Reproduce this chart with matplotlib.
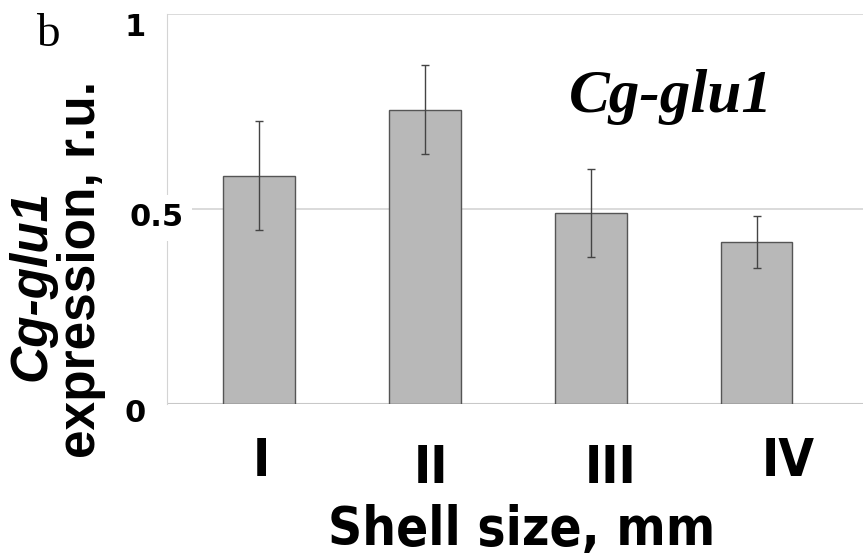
import numpy as np
import matplotlib.pyplot as plt
from matplotlib import transforms

groups = ["I", "II", "III", "IV"]
expression = [0.585, 0.754, 0.490, 0.415]
errors = [0.140, 0.114, 0.113, 0.067]
yticks = [0, 0.5, 1]
ytick_labels = ["0", "0.5", "1"]

W, H = 863, 558
fig = plt.figure(figsize=(W / 100, H / 100), dpi=100)
ax = fig.add_axes([167 / W, 1 - 404 / H, 696 / W, 390 / H])

x = np.arange(len(groups))
ax.bar(x, expression, width=0.43, color="#b8b8b8", edgecolor="#555555", linewidth=1.0, zorder=3)
ax.errorbar(x, expression, yerr=errors, fmt="none", ecolor="#444444",
            elinewidth=1.0, capsize=3, capthick=1.0, zorder=4)

ax.set_xlim(-0.554, 3.64)
ax.set_ylim(0, 1)
ax.set_yticks(yticks)
ax.set_yticklabels([])
ax.tick_params(length=0)
ax.set_xticks([])
ax.grid(axis="y", color="#d4d4d4", linewidth=1.2, zorder=0)
for side in ["top", "right", "bottom"]:
    ax.spines[side].set_visible(False)
ax.spines["left"].set_color("#d4d4d4")
ax.axhline(0, color="#c8c8c8", linewidth=1.5, zorder=2)

cond = dict(family="DejaVu Sans", stretch="condensed")

# y tick labels (placed by pixel like the original)
ytick_px = [(135, 414), (157, 218), (135, 27)]
for lab, (px, py) in zip(ytick_labels, ytick_px):
    fig.text(px / W, 1 - py / H, lab, fontsize=22, fontweight="bold",
             ha="center", va="center", family="DejaVu Sans", zorder=5,
             bbox=dict(facecolor="white", edgecolor="none", pad=6) if lab == "0.5" else None)

# roman numerals sit at staggered heights in the original
label_y = [462, 469, 469, 462]
label_dx = [2, 6, 20, 31]
blend = transforms.blended_transform_factory(ax.transData, fig.transFigure)
for xi, lab, py, dx in zip(x, groups, label_y, label_dx):
    t = blend + transforms.ScaledTranslation(dx / 100, 0, fig.dpi_scale_trans)
    ax.text(xi, 1 - py / H, lab, transform=t, fontsize=37, fontweight="bold",
            ha="center", va="center", **cond)

fig.text(522 / W, 1 - 530 / H, "Shell size, mm", fontsize=38, fontweight="bold",
         ha="center", va="center", **cond)

fig.text(32 / W, 1 - 285 / H, "Cg-glu1", fontsize=37, fontweight="bold", style="italic",
         rotation=90, ha="center", va="center", family="Liberation Sans")
fig.text(82 / W, 1 - 270 / H, "expression, r.u.", fontsize=37, fontweight="bold",
         rotation=90, ha="center", va="center", family="Liberation Sans")

fig.text(48 / W, 1 - 46 / H, "b", fontsize=34, ha="center", va="baseline",
         family="Liberation Serif")
ax.text(0.724, 0.749, "Cg-glu1", transform=ax.transAxes, fontsize=44, fontweight="bold",
        style="italic", ha="center", va="baseline", family="Liberation Serif")

fig.savefig("out.png", dpi=100)
